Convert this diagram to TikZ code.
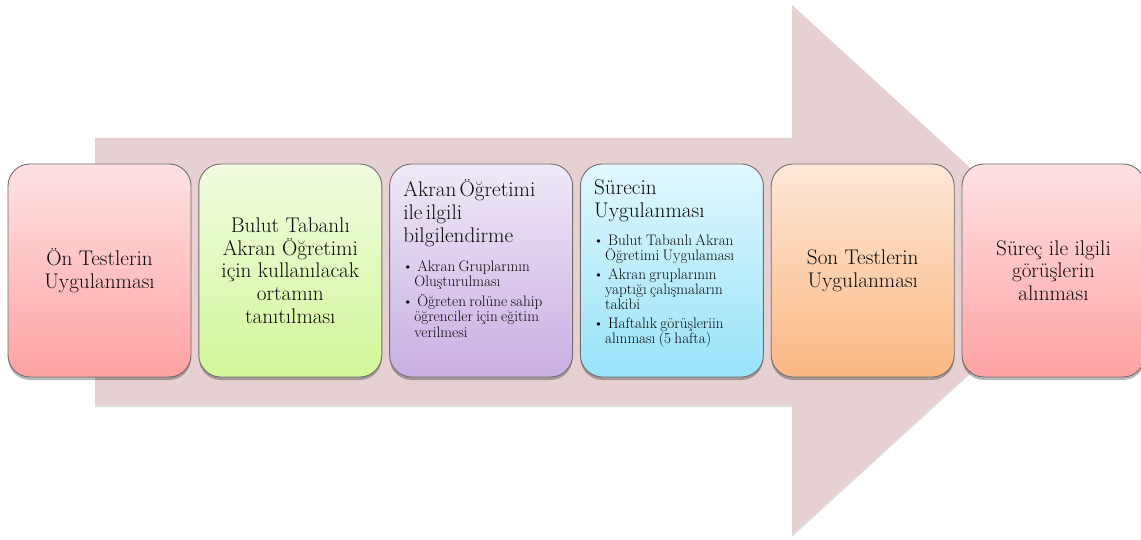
\documentclass[tikz,border=0pt]{standalone}
\usetikzlibrary{shadows}

% step colours (top / bottom of each gradient)
\definecolor{arrowfill}{HTML}{E6D0D1}
\definecolor{pinkT}{HTML}{FEE2E4}
\definecolor{pinkB}{HTML}{FEA2A3}
\definecolor{greenT}{HTML}{F1FBE1}
\definecolor{greenB}{HTML}{D3F799}
\definecolor{lilacT}{HTML}{EFE9F7}
\definecolor{lilacB}{HTML}{C8AFE2}
\definecolor{cyanT}{HTML}{E1F7FD}
\definecolor{cyanB}{HTML}{98E3F9}
\definecolor{peachT}{HTML}{FDE8D8}
\definecolor{peachB}{HTML}{FBB882}
\definecolor{frame}{HTML}{6F6F6F}
\definecolor{ink}{HTML}{0A0A0A}

\newcommand{\titlefont}{\fontsize{21.2}{22.7}\selectfont}
\newcommand{\itemfont}{\fontsize{15.2}{15.2}\selectfont}
\newenvironment{steplist}[1]{%
  \begin{list}{\textbullet}{\setlength{\leftmargin}{11pt}\setlength{\labelwidth}{8pt}%
    \setlength{\labelsep}{4pt}\setlength{\itemsep}{#1}\setlength{\parsep}{0pt}%
    \setlength{\topsep}{0pt}\setlength{\partopsep}{0pt}\setlength{\rightmargin}{0pt}}\itemfont}%
  {\end{list}}

\tikzset{
  stepbox/.style={draw=frame, line width=0.9pt, rounded corners=22pt,
    minimum width=183pt, minimum height=213pt, inner sep=0pt,
    drop shadow={shadow xshift=0pt, shadow yshift=-3pt, opacity=0.28, fill=black}},
  pinkbox/.style={stepbox, top color=pinkT, bottom color=pinkB},
  greenbox/.style={stepbox, top color=greenT, bottom color=greenB},
  lilacbox/.style={stepbox, top color=lilacT, bottom color=lilacB},
  cyanbox/.style={stepbox, top color=cyanT, bottom color=cyanB},
  peachbox/.style={stepbox, top color=peachT, bottom color=peachB},
  centertext/.style={align=center, text=ink, font=\titlefont, inner sep=0pt},
  lefttext/.style={align=left, text=ink, inner sep=0pt, anchor=north west, text width=168pt}
}

\begin{document}
\begin{tikzpicture}[x=1pt, y=-1pt]
\useasboundingbox (0,0) rectangle (1141,540);

% big background arrow
\fill[arrowfill, drop shadow={shadow xshift=0pt, shadow yshift=-2pt, opacity=0.12, fill=black}]
  (95,138) -- (792,138) -- (792,5) -- (1082,270) -- (792,535) -- (792,405) -- (95,405) -- cycle;

% the six steps
\node[pinkbox]  (s1) at (99.5,270.5) {};
\node[greenbox] (s2) at (290.3,270.5) {};
\node[lilacbox] (s3) at (481.1,270.5) {};
\node[cyanbox]  (s4) at (671.9,270.5) {};
\node[peachbox] (s5) at (862.7,270.5) {};
\node[pinkbox]  (s6) at (1053.5,270.5) {};

\node[centertext] (t1) at (s1) {Ön Testlerin\\Uygulanması};
\node[centertext] (t2) at (s2) {Bulut Tabanlı\\Akran Öğretimi\\için kullanılacak\\ortamın\\tanıtılması};
\node[centertext] (t5) at (s5) {Son Testlerin\\Uygulanması};
\node[centertext] (t6) at (s6) {Süreç ile ilgili\\görüşlerin\\alınması};

\node[lefttext] (t3) at ([xshift=14pt, yshift=-16pt]s3.north west) {%
  {\titlefont Akran Öğretimi\\ile ilgili\\bilgilendirme\par}\vspace{14pt}
  \begin{steplist}{5pt}
  \item Akran Gruplarının\newline Oluşturulması
  \item Öğreten rolüne sahip\newline öğrenciler için eğitim\newline verilmesi
  \end{steplist}};

\node[lefttext] (t4) at ([xshift=14pt, yshift=-16pt]s4.north west) {%
  {\titlefont Sürecin\\Uygulanması\par}\vspace{13pt}
  \begin{steplist}{3.5pt}
  \item Bulut Tabanlı Akran\newline Öğretimi Uygulaması
  \item Akran gruplarının\newline yaptığı çalışmaların\newline takibi
  \item Haftalık görüşleriin\newline alınması (5~hafta)
  \end{steplist}};
\end{tikzpicture}
\end{document}
